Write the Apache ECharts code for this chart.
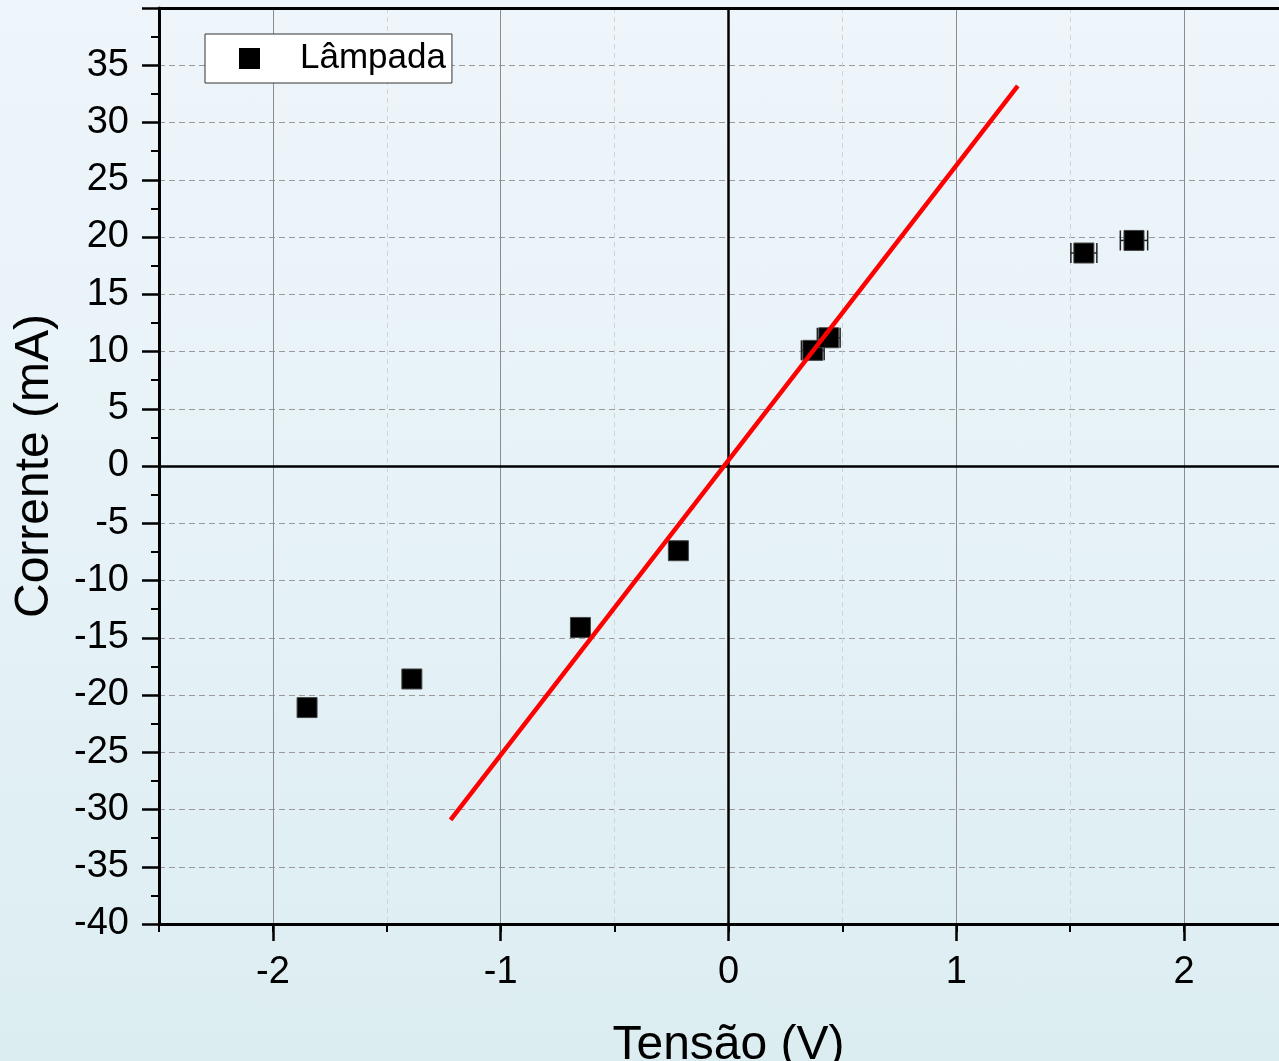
<!DOCTYPE html>
<html>
<head>
<meta charset="utf-8">
<script src="https://cdn.jsdelivr.net/npm/echarts@6/dist/echarts.min.js"></script>
<style>
html,body{margin:0;padding:0;overflow:hidden;}
body{background:linear-gradient(to bottom,#eef5fb 0%,#e6f2f7 50%,#dcedf1 100%);}
#chart{width:1279px;height:1061px;}
</style>
</head>
<body>
<div id="chart"></div>
<script>
// Data
const seriesName = 'Lâmpada';
const voltage = [-1.85, -1.39, -0.65, -0.22, 0.37, 0.44, 1.56, 1.78];
const current = [-21.1, -18.6, -14.1, -7.4, 10.1, 11.2, 18.6, 19.7];
const voltageErr = [0.02, 0.02, 0.02, 0.02, 0.05, 0.05, 0.057, 0.06];
const fitX = [-1.22, 1.27];
const fitY = [-30.9, 33.2];
const xTickValues = [-2, -1, 0, 1, 2];
const xTitle = 'Tensão (V)';
const yTitle = 'Corrente (mA)';

const FONT = 'Liberation Sans, Arial, sans-serif';
const chart = echarts.init(document.getElementById('chart'), null, {renderer: 'canvas'});

const points = voltage.map((v, i) => [v, current[i]]);
const errData = voltage.map((v, i) => [v, current[i], voltageErr[i]]);
const fitData = fitX.map((v, i) => [v, fitY[i]]);

const option = {
  backgroundColor: 'transparent',
  animation: false,
  grid: {left: 159, top: 8, width: 1139, height: 916, containLabel: false, outerBoundsMode: 'none'},
  legend: {
    data: [{name: seriesName, icon: 'rect', itemStyle: {color: '#000', borderWidth: 0, opacity: 1}}],
    left: 205, top: 34,
    orient: 'vertical',
    backgroundColor: '#ffffff',
    borderColor: '#333',
    borderWidth: 1,
    borderRadius: 0,
    padding: [7, 6, 7, 34],
    itemWidth: 21, itemHeight: 21,
    textStyle: {fontFamily: FONT, fontSize: 35, color: '#000', padding: [0, 0, 0, 35]}
  },
  xAxis: [
    {
      // minor grid/ticks every 0.5
      type: 'value', min: -2.5, max: 2.5, interval: 0.5, position: 'bottom',
      axisLine: {show: true, onZero: false, lineStyle: {color: '#000', width: 3}},
      axisTick: {show: true, length: 8, lineStyle: {color: '#000', width: 2}},
      axisLabel: {show: false},
      splitLine: {show: true, lineStyle: {color: '#cfd4d6', width: 1, type: [5, 4]}}
    },
    {
      // major ticks, labels and solid grid at integers
      type: 'value', min: -2.5, max: 2.5, position: 'bottom',
      name: xTitle, nameLocation: 'middle', nameGap: 98,
      nameTextStyle: {fontFamily: FONT, fontSize: 48, color: '#000'},
      axisLine: {show: false, onZero: false},
      axisTick: {show: true, length: 17, customValues: xTickValues, lineStyle: {color: '#000', width: 2.5}},
      axisLabel: {show: true, customValues: xTickValues, margin: 30, fontFamily: FONT, fontSize: 38, color: '#000'},
      splitLine: {show: true, lineStyle: {color: '#8c8c8c', width: 1, type: 'solid'}}
    },
    {
      // top frame line
      type: 'value', min: -2.5, max: 2.5, position: 'top',
      axisLine: {show: true, onZero: false, lineStyle: {color: '#000', width: 3}},
      axisTick: {show: false}, axisLabel: {show: false}, splitLine: {show: false}
    }
  ],
  yAxis: [{
    type: 'value', min: -40, max: 40, interval: 5,
    name: yTitle, nameLocation: 'middle', nameGap: 100,
    nameTextStyle: {fontFamily: FONT, fontSize: 48, color: '#000'},
    axisLine: {show: true, onZero: false, lineStyle: {color: '#000', width: 3}},
    axisTick: {show: true, length: 17, lineStyle: {color: '#000', width: 2.5}},
    minorTick: {show: true, splitNumber: 2, length: 8, lineStyle: {color: '#000', width: 2}},
    axisLabel: {show: true, showMaxLabel: false, margin: 30, fontFamily: FONT, fontSize: 38, color: '#000'},
    splitLine: {show: true, lineStyle: {color: '#9a9a9a', width: 1, type: [6, 4]}}
  }],
  series: [
    {
      name: 'errorX', type: 'custom', xAxisIndex: 0, yAxisIndex: 0, z: 3,
      silent: true,
      encode: {x: 0, y: 1},
      data: errData,
      renderItem: function (params, api) {
        const x = api.value(0), y = api.value(1), e = api.value(2);
        const l = api.coord([x - e, y]);
        const r = api.coord([x + e, y]);
        const h = 10;
        const st = {stroke: '#222', lineWidth: 1.5};
        return {
          type: 'group',
          children: [
            {type: 'line', shape: {x1: l[0], y1: l[1], x2: r[0], y2: r[1]}, style: st},
            {type: 'line', shape: {x1: l[0], y1: l[1] - h, x2: l[0], y2: l[1] + h}, style: st},
            {type: 'line', shape: {x1: r[0], y1: r[1] - h, x2: r[0], y2: r[1] + h}, style: st}
          ]
        };
      }
    },
    {
      name: seriesName, type: 'scatter', xAxisIndex: 0, yAxisIndex: 0, z: 4,
      symbol: 'rect', symbolSize: 20,
      itemStyle: {color: '#000', borderColor: '#444', borderWidth: 1, opacity: 1},
      data: points,
      markLine: {
        silent: true, symbol: 'none', z: 1,
        label: {show: false},
        lineStyle: {color: '#000', width: 2.5, type: 'solid'},
        data: [{xAxis: 0}, {yAxis: 0}]
      }
    },
    {
      name: 'fit', type: 'line', xAxisIndex: 0, yAxisIndex: 0, z: 6,
      symbol: 'none', silent: true,
      lineStyle: {color: '#ff0000', width: 4.5},
      data: fitData
    }
  ]
};
chart.setOption(option);
</script>
</body>
</html>
